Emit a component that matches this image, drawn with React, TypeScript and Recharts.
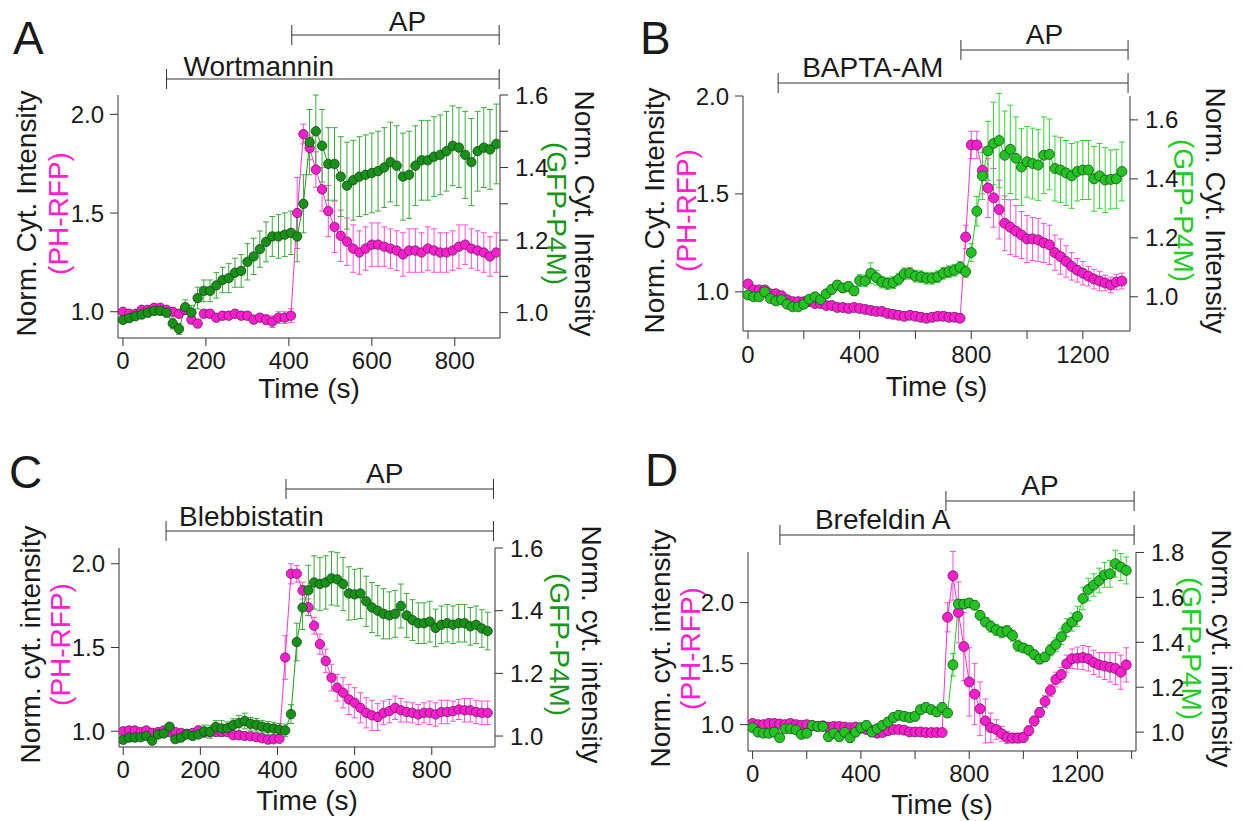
import React from "react";
import { ComposedChart, Line, XAxis, YAxis, ErrorBar, ReferenceLine } from "recharts";

const FONT = '"Liberation Sans", Arial, Helvetica, sans-serif';
const AXIS = "#333333";
const INK = "#1a1a1a";

const PINK = { fill: "#ff1ecf", line: "#ff33cc", err: "#ff4fd8", edge: "#5e1d55", text: "#ff22cc" };
const DARK_GREEN = { fill: "#169316", line: "#1a9a1a", err: "#3aaa3a", edge: "#1d3d1d", text: "#1a961a" };
const LIGHT_GREEN = { fill: "#22c422", line: "#22cc22", err: "#33d633", edge: "#1e4a1e", text: "#22cc22" };

/* ---------- A : Wortmannin (sampled every 15 s) ---------- */
const A_STEP = 15;
const A_PH = [1.00,0.99,0.99,1.01,1.01,1.02,1.02,1.01,1.00,0.99,1.01,0.96,0.94,0.99,0.99,0.97,0.98,0.98,0.99,0.98,0.98,0.96,0.97,0.96,0.95,0.97,0.97,0.98,
  1.50,1.90,1.83,1.72,1.62,1.51,1.43,1.385,1.355,1.32,1.30,1.32,1.34,1.34,1.33,1.32,1.31,1.29,1.31,1.31,1.30,1.32,1.31,1.30,1.30,1.31,1.33,1.34,1.32,1.31,1.30,1.28,1.30];
const A_PH_ERR = [0.015,0.015,0.015,0.015,0.015,0.015,0.015,0.015,0.02,0.02,0.02,0.02,0.02,0.02,0.02,0.02,0.02,0.02,0.02,0.02,0.02,0.02,0.02,0.025,0.03,0.03,0.03,0.035,
  0.18,0.05,0.06,0.09,0.11,0.13,0.13,0.13,0.12,0.12,0.11,0.11,0.11,0.11,0.1,0.1,0.1,0.11,0.11,0.11,0.1,0.11,0.11,0.1,0.1,0.1,0.11,0.1,0.1,0.1,0.1,0.1,0.1];
const A_P4M = [0.98,0.985,0.99,0.995,1.00,1.005,1.005,1.00,0.97,0.955,1.015,1.00,1.04,1.06,1.06,1.075,1.09,1.095,1.11,1.115,1.14,1.155,1.175,1.195,1.21,1.21,1.215,1.22,
  1.21,1.30,1.47,1.50,1.46,1.41,1.41,1.375,1.35,1.365,1.375,1.38,1.385,1.39,1.40,1.415,1.405,1.375,1.38,1.405,1.42,1.42,1.43,1.435,1.445,1.46,1.455,1.435,1.415,1.445,1.455,1.45,1.465];
const A_P4M_ERR = [0.01,0.01,0.01,0.012,0.012,0.012,0.012,0.012,0.015,0.015,0.02,0.02,0.03,0.03,0.03,0.035,0.035,0.04,0.04,0.045,0.05,0.05,0.05,0.055,0.055,0.06,0.06,0.06,
  0.07,0.08,0.09,0.1,0.1,0.1,0.1,0.11,0.12,0.11,0.11,0.11,0.11,0.11,0.11,0.11,0.11,0.12,0.12,0.11,0.11,0.11,0.11,0.11,0.11,0.11,0.11,0.12,0.12,0.11,0.11,0.11,0.11];

/* ---------- B : BAPTA-AM (sampled every 20 s) ---------- */
const B_STEP = 20;
const B_PH = [1.04,1.01,1.01,1.01,0.99,0.99,0.98,0.96,0.95,0.95,0.95,0.95,0.94,0.94,0.93,0.93,0.92,0.92,0.915,0.92,0.915,0.91,0.905,0.90,0.90,0.89,0.885,0.88,0.875,0.88,0.875,0.87,0.865,0.87,0.875,0.875,0.87,0.87,0.865,
  1.28,1.75,1.75,1.62,1.53,1.48,1.42,1.35,1.33,1.31,1.29,1.27,1.27,1.265,1.25,1.24,1.20,1.18,1.155,1.13,1.11,1.095,1.08,1.065,1.055,1.045,1.035,1.05,1.055];
const B_PH_ERR = [0.015,0.015,0.015,0.015,0.015,0.015,0.015,0.015,0.015,0.015,0.02,0.02,0.02,0.02,0.02,0.02,0.02,0.02,0.02,0.02,0.02,0.02,0.02,0.02,0.02,0.02,0.02,0.02,0.02,0.02,0.02,0.02,0.02,0.02,0.02,0.02,0.02,0.02,0.02,
  0.06,0.07,0.07,0.12,0.15,0.15,0.15,0.14,0.14,0.13,0.12,0.12,0.11,0.11,0.1,0.1,0.09,0.09,0.08,0.07,0.06,0.06,0.05,0.05,0.05,0.04,0.04,0.04,0.04];
const B_P4M = [1.006,1.00,1.00,1.017,0.994,0.986,0.99,0.975,0.966,0.966,0.975,0.992,1.00,0.99,1.01,1.025,1.04,1.03,1.035,1.02,1.055,1.054,1.08,1.065,1.05,1.045,1.048,1.06,1.078,1.08,1.07,1.068,1.063,1.063,1.068,1.08,1.085,1.09,1.10,1.085,
  1.15,1.29,1.41,1.495,1.52,1.53,1.48,1.50,1.47,1.44,1.458,1.452,1.447,1.48,1.483,1.435,1.43,1.42,1.41,1.425,1.43,1.43,1.40,1.41,1.396,1.398,1.40,1.425];
const B_P4M_ERR = [0.012,0.012,0.012,0.012,0.012,0.012,0.012,0.012,0.012,0.012,0.012,0.012,0.012,0.012,0.012,0.015,0.015,0.015,0.015,0.015,0.02,0.02,0.035,0.025,0.02,0.02,0.02,0.02,0.02,0.02,0.02,0.02,0.02,0.02,0.02,0.02,0.02,0.02,0.02,0.02,
  0.03,0.05,0.08,0.1,0.14,0.16,0.15,0.15,0.14,0.13,0.12,0.12,0.12,0.13,0.12,0.11,0.11,0.11,0.11,0.1,0.1,0.1,0.11,0.11,0.11,0.1,0.1,0.1];

/* ---------- C : Blebbistatin (sampled every 15 s) ---------- */
const C_STEP = 15;
const C_PH = [1.00,1.005,1.005,0.995,1.005,0.99,0.995,1.005,0.995,0.995,0.99,0.985,0.99,1.006,0.995,0.995,0.995,0.995,0.995,0.976,0.976,0.972,0.97,0.965,0.958,0.95,0.952,0.955,
  1.44,1.94,1.94,1.84,1.74,1.63,1.52,1.42,1.32,1.26,1.23,1.19,1.17,1.14,1.11,1.095,1.085,1.11,1.12,1.14,1.125,1.115,1.11,1.10,1.11,1.11,1.10,1.115,1.115,1.12,1.13,1.125,1.125,1.115,1.11,1.11];
const C_PH_ERR = [0.012,0.012,0.012,0.012,0.012,0.012,0.012,0.012,0.012,0.012,0.012,0.012,0.012,0.012,0.012,0.012,0.012,0.012,0.012,0.015,0.015,0.015,0.015,0.015,0.015,0.015,0.015,0.015,
  0.13,0.06,0.05,0.05,0.05,0.05,0.06,0.07,0.08,0.08,0.09,0.09,0.09,0.09,0.09,0.09,0.08,0.07,0.07,0.07,0.07,0.06,0.06,0.06,0.06,0.07,0.07,0.07,0.07,0.06,0.06,0.07,0.07,0.07,0.07,0.07];
const C_P4M = [0.988,0.995,0.995,0.996,1.00,0.985,1.005,1.008,1.03,0.99,0.995,1.005,1.00,1.005,1.015,1.013,1.029,1.024,1.025,1.035,1.041,1.048,1.039,1.036,1.03,1.026,1.024,1.02,
  1.018,1.07,1.30,1.41,1.465,1.49,1.485,1.49,1.503,1.50,1.485,1.455,1.452,1.455,1.43,1.41,1.40,1.39,1.385,1.39,1.415,1.385,1.37,1.36,1.36,1.365,1.345,1.355,1.36,1.355,1.36,1.36,1.35,1.355,1.343,1.335];
const C_P4M_ERR = [0.01,0.01,0.01,0.01,0.01,0.01,0.01,0.01,0.01,0.01,0.01,0.01,0.01,0.01,0.02,0.02,0.02,0.025,0.02,0.02,0.025,0.025,0.02,0.02,0.02,0.02,0.02,0.02,
  0.02,0.03,0.06,0.07,0.08,0.085,0.085,0.085,0.085,0.085,0.085,0.085,0.08,0.08,0.08,0.08,0.08,0.08,0.075,0.075,0.07,0.07,0.065,0.065,0.065,0.065,0.06,0.06,0.06,0.06,0.06,0.06,0.06,0.06,0.06,0.06];

/* ---------- D : Brefeldin A (sampled every 20 s) ---------- */
const D_STEP = 20;
const D_PH = [1.01,1.00,1.00,1.01,1.01,1.005,1.00,1.01,1.00,0.995,1.00,0.99,0.985,0.99,0.98,0.985,0.985,0.98,0.975,0.98,0.97,0.96,0.955,0.93,0.935,0.95,0.96,0.96,0.955,0.94,0.94,0.94,0.935,0.935,0.935,0.935,
  1.88,2.22,1.92,1.64,1.35,1.25,1.13,1.03,0.975,0.96,0.925,0.895,0.89,0.89,0.895,0.95,1.03,1.10,1.19,1.28,1.37,1.41,1.50,1.54,1.545,1.55,1.54,1.51,1.49,1.48,1.47,1.46,1.43,1.49];
const D_PH_ERR = [0.025,0.025,0.025,0.025,0.025,0.025,0.025,0.025,0.025,0.025,0.025,0.025,0.025,0.025,0.025,0.025,0.025,0.025,0.025,0.025,0.025,0.025,0.03,0.03,0.03,0.025,0.025,0.025,0.025,0.025,0.025,0.025,0.025,0.025,0.025,0.025,
  0.12,0.2,0.25,0.28,0.28,0.25,0.22,0.18,0.12,0.08,0.06,0.05,0.04,0.04,0.04,0.04,0.04,0.04,0.05,0.05,0.06,0.06,0.07,0.08,0.09,0.1,0.1,0.1,0.1,0.11,0.12,0.13,0.14,0.14];
const D_P4M = [1.02,1.00,0.995,0.995,1.00,0.975,1.015,1.015,1.01,0.99,0.995,1.03,1.025,1.025,0.98,0.995,0.98,1.00,0.975,1.00,1.02,1.03,1.00,1.015,1.03,1.045,1.065,1.075,1.07,1.065,1.07,1.10,1.11,1.10,1.09,1.11,
  1.085,1.30,1.57,1.57,1.575,1.565,1.52,1.49,1.47,1.455,1.445,1.45,1.43,1.385,1.375,1.365,1.345,1.325,1.335,1.365,1.39,1.425,1.465,1.49,1.515,1.595,1.635,1.655,1.675,1.70,1.705,1.75,1.735,1.72];
const D_P4M_ERR = [0.015,0.015,0.015,0.015,0.015,0.015,0.015,0.015,0.015,0.015,0.015,0.015,0.015,0.015,0.02,0.02,0.02,0.02,0.02,0.02,0.02,0.02,0.02,0.02,0.02,0.02,0.02,0.02,0.02,0.02,0.02,0.02,0.02,0.02,0.02,0.02,
  0.02,0.05,0.02,0.02,0.02,0.02,0.02,0.02,0.025,0.025,0.025,0.025,0.025,0.025,0.02,0.02,0.02,0.02,0.02,0.025,0.03,0.035,0.04,0.04,0.045,0.05,0.05,0.05,0.055,0.055,0.06,0.06,0.06,0.06];

/* ---------- axis ticks and annotation spans (seconds) ---------- */
const X_TICKS_SHORT = [0, 200, 400, 600, 800];
const X_TICKS_LONG = [0, 200, 400, 600, 800, 1000, 1200];
const X_TICKS_LONG_D = [0, 200, 400, 600, 800, 1000, 1200, 1400];
const X_LABELS_LONG = [0, 400, 800, 1200];
const L_TICKS = [1.0, 1.5, 2.0];
const R_TICKS_A = [1.0, 1.1, 1.2, 1.3, 1.4, 1.5, 1.6];
const R_TICKS_BC = [1.0, 1.2, 1.4, 1.6];
const R_TICKS_D = [1.0, 1.2, 1.4, 1.6, 1.8];

const A_DRUG = [105, 907];
const A_AP = [407, 907];
const B_DRUG = [108, 1362];
const B_AP = [763, 1362];
const C_DRUG = [111, 960];
const C_AP = [422, 960];
const D_DRUG = [101, 1409];
const D_AP = [714, 1409];

const rows = (step: number, ph: number[], phErr: number[], p4m: number[], p4mErr: number[]) =>
  ph.map((v, i) => ({ t: i * step, ph: v, phErr: phErr[i], p4m: p4m[i], p4mErr: p4mErr[i] }));

const Bracket = (props: any) => {
  const { viewBox, rise, text, align, dx, gap } = props;
  if (!viewBox) return null;
  const x1 = viewBox.x;
  const x2 = viewBox.x + viewBox.width;
  const y = viewBox.y - rise;
  const tx = align === "middle" ? (x1 + x2) / 2 + dx : x1 + dx;
  return (
    <g>
      <line x1={x1} x2={x2} y1={y} y2={y} stroke={AXIS} strokeWidth={1} />
      <line x1={x1} x2={x1} y1={y - 10} y2={y + 10} stroke={AXIS} strokeWidth={1} />
      <line x1={x2} x2={x2} y1={y - 10} y2={y + 10} stroke={AXIS} strokeWidth={1} />
      <text x={tx} y={y - gap} textAnchor={align} fontFamily={FONT} fontSize={28} fill={INK}>
        {text}
      </text>
    </g>
  );
};

const YTitle = (props: any) => {
  const { viewBox, side, line1, line2, color, off1, off2 } = props;
  if (!viewBox) return null;
  const cy = viewBox.y + viewBox.height / 2 - 3;
  const edge = side === "left" ? viewBox.x + viewBox.width : viewBox.x;
  const sign = side === "left" ? -1 : 1;
  const rot = side === "left" ? -90 : 90;
  const x1 = edge + sign * off1;
  const x2 = edge + sign * off2;
  return (
    <g fontFamily={FONT} fontSize={28}>
      <text x={x1} y={cy} dy="0.36em" textAnchor="middle" fill={INK} transform={`rotate(${rot} ${x1} ${cy})`}>
        {line1}
      </text>
      <text x={x2} y={cy} dy="0.36em" textAnchor="middle" fill={color} transform={`rotate(${rot} ${x2} ${cy})`}>
        {line2}
      </text>
    </g>
  );
};

const XTitle = (props: any) => {
  const { viewBox, dy } = props;
  if (!viewBox) return null;
  return (
    <text x={viewBox.x + viewBox.width / 2} y={viewBox.y + dy} textAnchor="middle" fontFamily={FONT} fontSize={28} fill={INK}>
      Time (s)
    </text>
  );
};

function Panel(p: any) {
  const tick = { fill: INK, fontSize: 24, fontFamily: FONT };
  const lTop = p.lDomain[1];
  return (
    <div style={{ position: "absolute", left: p.left, top: p.top }}>
      <ComposedChart width={p.width} height={p.height} data={p.data} margin={p.margin}>
        <XAxis
          dataKey="t"
          type="number"
          domain={p.xDomain}
          allowDataOverflow
          ticks={p.xTicks}
          interval={0}
          tickFormatter={(v: number) => (p.xLabels.includes(v) ? String(v) : "")}
          height={60}
          tickSize={8}
          tickMargin={p.xMargin}
          stroke={AXIS}
          tick={tick}
          label={<XTitle dy={p.timeDy} />}
        />
        <YAxis
          yAxisId="L"
          type="number"
          domain={p.lDomain}
          allowDataOverflow
          ticks={L_TICKS}
          interval={0}
          tickFormatter={(v: number) => v.toFixed(1)}
          width={60}
          tickSize={8}
          tickMargin={6}
          stroke={AXIS}
          tick={tick}
          label={<YTitle side="left" line1={p.title} line2="(PH-RFP)" color={PINK.text} off1={p.lOff[0]} off2={p.lOff[1]} />}
        />
        <YAxis
          yAxisId="R"
          orientation="right"
          type="number"
          domain={p.rDomain}
          allowDataOverflow
          ticks={p.rTicks}
          interval={0}
          tickFormatter={(v: number) => (p.rAll || Math.round(v * 10) % 2 === 0 ? v.toFixed(1) : "")}
          width={60}
          tickSize={8}
          tickMargin={7}
          stroke={AXIS}
          tick={tick}
          label={<YTitle side="right" line1={p.title} line2="(GFP-P4M)" color={p.green.text} off1={p.rOff[0]} off2={p.rOff[1]} />}
        />
        <ReferenceLine
          yAxisId="L"
          segment={[{ x: p.drug[0], y: lTop }, { x: p.drug[1], y: lTop }]}
          stroke="none"
          ifOverflow="visible"
          label={<Bracket rise={p.drugRise} text={p.drugName} align="start" dx={p.drugDx} gap={p.drugGap} />}
        />
        <ReferenceLine
          yAxisId="L"
          segment={[{ x: p.ap[0], y: lTop }, { x: p.ap[1], y: lTop }]}
          stroke="none"
          ifOverflow="visible"
          label={<Bracket rise={p.apRise} text="AP" align="middle" dx={p.apDx} gap={p.apGap} />}
        />
        <Line
          yAxisId="L"
          dataKey="ph"
          type="linear"
          stroke={PINK.line}
          strokeWidth={1}
          dot={{ r: p.r, fill: PINK.fill, stroke: PINK.edge, strokeWidth: 0.8 }}
          activeDot={false}
          isAnimationActive={false}
        >
          <ErrorBar dataKey="phErr" width={3} strokeWidth={1} stroke={PINK.err} direction="y" />
        </Line>
        <Line
          yAxisId="R"
          dataKey="p4m"
          type="linear"
          stroke={p.green.line}
          strokeWidth={1}
          dot={{ r: p.r, fill: p.green.fill, stroke: p.green.edge, strokeWidth: 0.8 }}
          activeDot={false}
          isAnimationActive={false}
        >
          <ErrorBar dataKey="p4mErr" width={3} strokeWidth={1} stroke={p.green.err} direction="y" />
        </Line>
      </ComposedChart>
    </div>
  );
}

export default function App() {
  return (
    <div style={{ position: "absolute", left: 0, top: 0, width: 1247, height: 821, background: "#fff", fontFamily: FONT }}>
      <Panel
        left={0} top={0} width={630} height={410}
        margin={{ top: 95, left: 58, right: 70, bottom: 12 }}
        data={rows(A_STEP, A_PH, A_PH_ERR, A_P4M, A_P4M_ERR)}
        xDomain={[-12, 909]} xTicks={X_TICKS_SHORT} xLabels={X_TICKS_SHORT} xMargin={6}
        lDomain={[0.867, 2.098]} rDomain={[0.93, 1.6]} rTicks={R_TICKS_A} rAll={false}
        title="Norm. Cyt. Intensity" green={DARK_GREEN} r={4.7}
        lOff={[92, 60]} rOff={[85, 57]} timeDy={60}
        drug={A_DRUG} drugName="Wortmannin" drugRise={16} drugDx={17} drugGap={3}
        ap={A_AP} apRise={60} apDx={12} apGap={4}
      />
      <Panel
        left={630} top={0} width={617} height={410}
        margin={{ top: 96, left: 53, right: 57, bottom: 19 }}
        data={rows(B_STEP, B_PH, B_PH_ERR, B_P4M, B_P4M_ERR)}
        xDomain={[-18, 1369]} xTicks={X_TICKS_LONG} xLabels={X_LABELS_LONG} xMargin={7}
        lDomain={[0.8, 2.0]} rDomain={[0.884, 1.681]} rTicks={R_TICKS_BC} rAll={true}
        title="Norm. Cyt. Intensity" green={LIGHT_GREEN} r={5}
        lOff={[89, 57]} rOff={[86, 54]} timeDy={65}
        drug={B_DRUG} drugName="BAPTA-AM" drugRise={13} drugDx={24} drugGap={6}
        ap={B_AP} apRise={46} apDx={0} apGap={6}
      />
      <Panel
        left={0} top={410} width={630} height={411}
        margin={{ top: 138, left: 59, right: 75, bottom: 14 }}
        data={rows(C_STEP, C_PH, C_PH_ERR, C_P4M, C_P4M_ERR)}
        xDomain={[-11, 964]} xTicks={X_TICKS_SHORT} xLabels={X_TICKS_SHORT} xMargin={6}
        lDomain={[0.906, 2.094]} rDomain={[0.965, 1.6]} rTicks={R_TICKS_BC} rAll={true}
        title="Norm. cyt. intensity" green={DARK_GREEN} r={4.7}
        lOff={[89, 59]} rOff={[97, 65]} timeDy={63}
        drug={C_DRUG} drugName="Blebbistatin" drugRise={17} drugDx={13} drugGap={5}
        ap={C_AP} apRise={59} apDx={-5} apGap={6}
      />
      <Panel
        left={630} top={410} width={617} height={411}
        margin={{ top: 142, left: 58, right: 51, bottom: 10 }}
        data={rows(D_STEP, D_PH, D_PH_ERR, D_P4M, D_P4M_ERR)}
        xDomain={[-17, 1416]} xTicks={X_TICKS_LONG_D} xLabels={X_LABELS_LONG} xMargin={6}
        lDomain={[0.784, 2.415]} rDomain={[0.916, 1.802]} rTicks={R_TICKS_D} rAll={true}
        title="Norm. cyt. intensity" green={LIGHT_GREEN} r={5}
        lOff={[88, 58]} rOff={[86, 56]} timeDy={63}
        drug={D_DRUG} drugName="Brefeldin A" drugRise={17} drugDx={35} drugGap={6}
        ap={D_AP} apRise={51} apDx={0} apGap={6}
      />
      <svg width={1247} height={821} style={{ position: "absolute", left: 0, top: 0, pointerEvents: "none" }}>
        <g fontFamily={FONT} fontSize={46} fill={INK}>
          <text x={13} y={54}>A</text>
          <text x={640} y={54}>B</text>
          <text x={9} y={488}>C</text>
          <text x={645} y={486}>D</text>
        </g>
      </svg>
    </div>
  );
}
